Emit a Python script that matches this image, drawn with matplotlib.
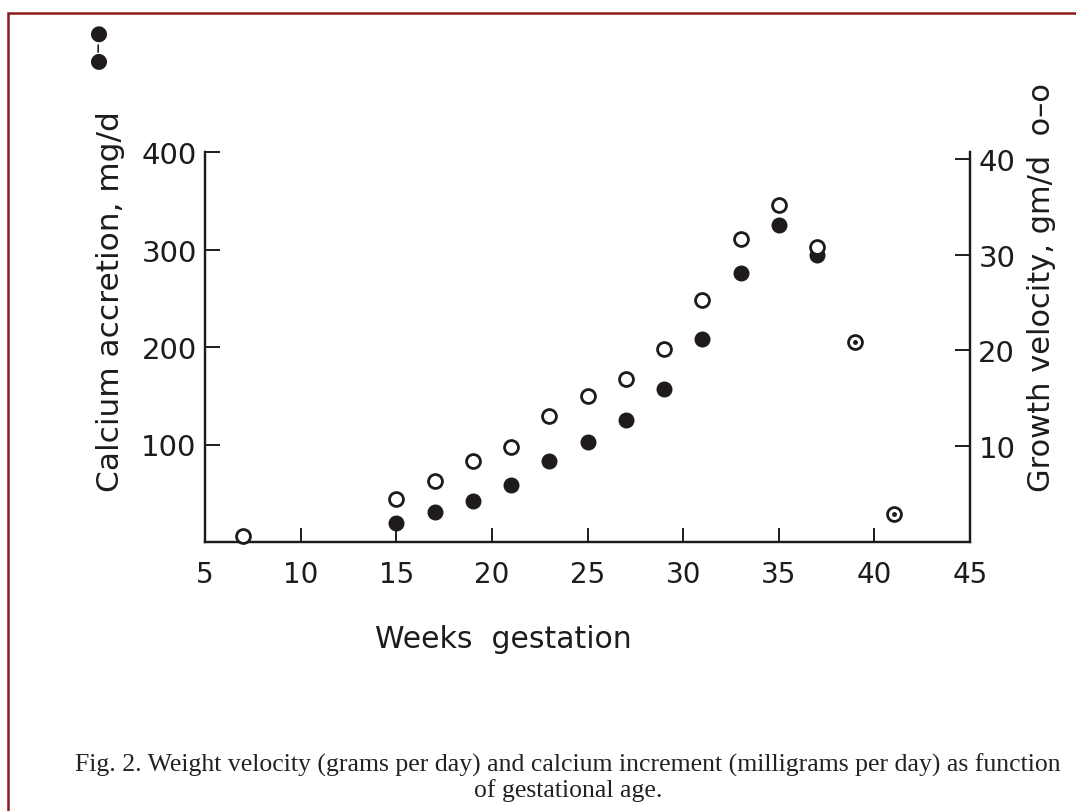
import matplotlib
matplotlib.use("Agg")
import matplotlib.pyplot as plt
from matplotlib.patches import Rectangle

# growth velocity (open circles, right axis, gm/d)
growth_weeks = [7, 15, 17, 19, 21, 23, 25, 27, 29, 31, 33, 35, 37, 39, 41]
growth_vals = [0.6, 4.5, 6.4, 8.5, 9.9, 13.2, 15.2, 17.0, 20.2, 25.3, 31.6, 35.2, 30.8, 20.9, 2.9]
# dotted-centre circles
dot_weeks = [39, 41]
dot_vals = [20.9, 2.9]

# calcium accretion (filled circles, left axis, mg/d)
calc_weeks = [15, 17, 19, 21, 23, 25, 27, 29, 31, 33, 35, 37]
calc_vals = [19, 31, 42, 58, 83, 103, 125, 157, 208, 276, 325, 294]

x_ticks = [5, 10, 15, 20, 25, 30, 35, 40, 45]
left_ticks = [100, 200, 300, 400]
right_ticks = [10, 20, 30, 40]

ink = "#1e1a1e"
W, H = 1076, 812

fig = plt.figure(figsize=(W / 100, H / 100), dpi=100)
fig.patch.set_facecolor("white")

ax = fig.add_axes([205 / W, 1 - 543 / H, (970 - 205) / W, (543 - 153) / H])
ax2 = ax.twinx()

ax.plot(calc_weeks, calc_vals, "o", color=ink, ms=10.5, zorder=5, clip_on=False)
ax2.plot(growth_weeks, growth_vals, "o", mfc="white", mec=ink, mew=2.0, ms=10, zorder=5, clip_on=False)
ax2.plot(dot_weeks, dot_vals, "o", color=ink, ms=2.5, zorder=6)

ax.set_xlim(5, 45)
ax.set_ylim(0, 400)
ax2.set_ylim(0, 40.73)

for a in (ax, ax2):
    a.spines["top"].set_visible(False)
    for s in a.spines.values():
        s.set_linewidth(1.6)
        s.set_color(ink)

ax.set_xticks(x_ticks)
ax.set_yticks(left_ticks)
ax2.set_yticks(right_ticks)
ax.tick_params(axis="x", direction="in", length=10, width=1.4, pad=13,
               labelsize=20, colors=ink)
ax.tick_params(axis="y", direction="in", length=11, width=1.4, pad=6,
               labelsize=21, colors=ink)
ax2.tick_params(axis="y", direction="in", length=11, width=1.4, pad=6,
                labelsize=21, colors=ink)

fig.text(503 / W, 1 - 640 / H, "Weeks  gestation", ha="center", va="center",
         fontsize=21.5, color=ink)
fig.text(111 / W, 1 - 492 / H, "Calcium accretion, mg/d", rotation=90,
         ha="center", va="bottom", fontsize=22.5, color=ink)
fig.text(98 / W, 1 - 69 / H, "\u25cf\u2013\u25cf", rotation=90,
         ha="center", va="bottom", fontsize=15, color=ink)
fig.text(1042 / W, 1 - 492 / H, "Growth velocity, gm/d  o\u2013o", rotation=90,
         ha="center", va="bottom", fontsize=22, color=ink)

fig.text(568 / W, 1 - 778 / H,
         "Fig. 2. Weight velocity (grams per day) and calcium increment (milligrams per day) as function\nof gestational age.",
         ha="center", va="center", fontsize=18.5, family="Liberation Serif",
         color="#222", linespacing=1.1)

# red frame of the scan
fig.patches.append(Rectangle((8 / W, -0.1), 1.2, 1 - 14 / H + 0.1, transform=fig.transFigure,
                             fill=False, edgecolor="#8e1b1b", linewidth=1.8))

fig.savefig("out.png", dpi=100)
